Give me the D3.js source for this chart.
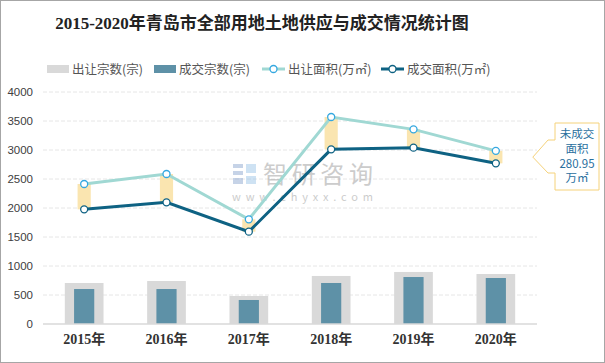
<!DOCTYPE html>
<html>
  <head>
    <style>
      body {
        margin: 0;
        font-family: "Noto Sans CJK SC", "Noto Sans", sans-serif;
      }
      .grid line {
        stroke: #e6e6e6;
        stroke-dasharray: 4,2;
      }
      .supply-line {
        fill: none;
        stroke: #a0d8d3;
        stroke-width: 3px;
      }
      .deal-line {
        fill: none;
        stroke: #0e6283;
        stroke-width: 3px;
      }
    </style>
  </head>
  <body>
    <script src="https://d3js.org/d3.v7.min.js"></script>
    <script>
      // data
      var years = ["2015年", "2016年", "2017年", "2018年", "2019年", "2020年"];
      var supplyCount = [707, 741, 483, 828, 897, 862];   // 出让宗数(宗)
      var dealCount = [603, 603, 414, 707, 810, 793];     // 成交宗数(宗)
      var supplyArea = [2414, 2586, 1805, 3569, 3356, 2985]; // 出让面积(万㎡)
      var dealArea = [1977, 2098, 1592, 3011, 3040, 2770];   // 成交面积(万㎡)
      var yTicks = [0, 500, 1000, 1500, 2000, 2500, 3000, 3500, 4000];
      var legendNames = ["出让宗数(宗)", "成交宗数(宗)", "出让面积(万㎡)", "成交面积(万㎡)"];
      var calloutLines = ["未成交", "面积", "280.95", "万㎡"];

      var W = 605, H = 363;
      var svg = d3.select("body").append("svg")
        .attr("width", W)
        .attr("height", H);

      svg.append("rect")
        .attr("x", 0.5).attr("y", 0.5)
        .attr("width", W - 1).attr("height", H - 1)
        .attr("fill", "#fff")
        .attr("stroke", "#a6a6a6");

      var x = d3.scaleBand()
        .domain(years)
        .range([43, 537]);
      var y = d3.scaleLinear()
        .domain([0, 4000])
        .range([324, 92]);

      // title
      svg.append("text")
        .attr("x", 262).attr("y", 29)
        .attr("text-anchor", "middle")
        .attr("font-family", "'Liberation Serif', 'Noto Sans CJK SC', serif")
        .attr("font-weight", "bold")
        .attr("font-size", 17)
        .attr("fill", "#222")
        .text("2015-2020年青岛市全部用地土地供应与成交情况统计图");

      // legend
      var lg = svg.append("g").attr("font-size", 12.5).attr("fill", "#555");
      lg.append("rect").attr("x", 47).attr("y", 65).attr("width", 22).attr("height", 8).attr("fill", "#d9d9d9");
      lg.append("text").attr("x", 72).attr("y", 73.5).text(legendNames[0]);
      lg.append("rect").attr("x", 154).attr("y", 65).attr("width", 22).attr("height", 8).attr("fill", "#5e91a7");
      lg.append("text").attr("x", 179).attr("y", 73.5).text(legendNames[1]);
      lg.append("line").attr("x1", 262).attr("x2", 285).attr("y1", 69).attr("y2", 69)
        .attr("stroke", "#a0d8d3").attr("stroke-width", 3);
      lg.append("circle").attr("cx", 273.5).attr("cy", 69).attr("r", 3.5)
        .attr("fill", "#fff").attr("stroke", "#35a8e0").attr("stroke-width", 1.3);
      lg.append("text").attr("x", 288).attr("y", 73.5).text(legendNames[2]);
      lg.append("line").attr("x1", 381).attr("x2", 404).attr("y1", 69).attr("y2", 69)
        .attr("stroke", "#0e6283").attr("stroke-width", 3);
      lg.append("circle").attr("cx", 392.5).attr("cy", 69).attr("r", 3.5)
        .attr("fill", "#fff").attr("stroke", "#0e6283").attr("stroke-width", 1.3);
      lg.append("text").attr("x", 407).attr("y", 73.5).text(legendNames[3]);

      // gridlines
      svg.append("g")
        .attr("class", "grid")
        .selectAll("line")
        .data(yTicks.slice(1))
        .enter().append("line")
          .attr("x1", 43).attr("x2", 537)
          .attr("y1", d => y(d)).attr("y2", d => y(d));

      // y axis
      var yAxis = d3.axisLeft(y).tickValues(yTicks).tickFormat(d3.format("d")).tickSize(0).tickPadding(0);
      var yg = svg.append("g")
        .attr("transform", "translate(33,0)")
        .call(yAxis);
      yg.select(".domain").remove();
      yg.selectAll("text")
        .attr("font-family", "'Liberation Sans', Arial, sans-serif")
        .attr("font-size", 11.5)
        .attr("fill", "#404040");

      // watermark
      var wm = svg.append("g").attr("opacity", 0.5);
      wm.append("rect").attr("x", 233).attr("y", 164).attr("width", 10).attr("height", 4).attr("fill", "#8fa8d0");
      wm.append("rect").attr("x", 233).attr("y", 171).attr("width", 10).attr("height", 4).attr("fill", "#8fa8d0");
      wm.append("rect").attr("x", 233).attr("y", 178).attr("width", 10).attr("height", 6).attr("fill", "#8fa8d0");
      wm.append("rect").attr("x", 246).attr("y", 164).attr("width", 10).attr("height", 9).attr("fill", "#9ec6e8");
      wm.append("rect").attr("x", 246).attr("y", 176).attr("width", 10).attr("height", 8).attr("fill", "#9ec6e8");
      wm.append("text").attr("x", 263).attr("y", 183)
        .attr("font-size", 24).attr("fill", "#9a9a9a")
        .attr("textLength", 110)
        .text("智研咨询");
      wm.append("text").attr("x", 232).attr("y", 201)
        .attr("font-size", 11).attr("fill", "#9a9a9a")
        .attr("textLength", 141)
        .text("www.chyxx.com");

      // bars
      var bw1 = x.bandwidth() * 0.47, bw2 = x.bandwidth() * 0.245;
      svg.append("g").selectAll("rect")
        .data(years)
        .enter().append("rect")
          .attr("x", d => x(d) + (x.bandwidth() - bw1) / 2)
          .attr("width", bw1)
          .attr("y", (d, i) => y(supplyCount[i]))
          .attr("height", (d, i) => y(0) - y(supplyCount[i]))
          .attr("fill", "#d9d9d9");
      svg.append("g").selectAll("rect")
        .data(years)
        .enter().append("rect")
          .attr("x", d => x(d) + (x.bandwidth() - bw2) / 2)
          .attr("width", bw2)
          .attr("y", (d, i) => y(dealCount[i]))
          .attr("height", (d, i) => y(0) - y(dealCount[i]))
          .attr("fill", "#5e91a7");

      // baseline
      svg.append("line")
        .attr("x1", 43).attr("x2", 537)
        .attr("y1", y(0)).attr("y2", y(0))
        .attr("stroke", "#d9d9d9").attr("stroke-width", 1.5);

      // x axis labels
      var xAxis = d3.axisBottom(x).tickSize(0).tickPadding(0);
      var xg = svg.append("g")
        .attr("transform", "translate(0,334)")
        .call(xAxis);
      xg.select(".domain").remove();
      xg.selectAll("text")
        .attr("font-family", "'Liberation Serif', 'Noto Sans CJK SC', serif")
        .attr("font-weight", "bold")
        .attr("font-size", 14)
        .attr("fill", "#333");

      var cx = d => x(d) + x.bandwidth() / 2;

      // gap rectangles between supply and deal area
      var gw = x.bandwidth() * 0.16;
      svg.append("g").selectAll("rect")
        .data(years)
        .enter().append("rect")
          .attr("x", d => cx(d) - gw / 2)
          .attr("width", gw)
          .attr("y", (d, i) => y(supplyArea[i]))
          .attr("height", (d, i) => y(dealArea[i]) - y(supplyArea[i]))
          .attr("fill", "#fae5b0");

      // lines
      var line = d3.line()
        .x(d => cx(d[0]))
        .y(d => y(d[1]));
      svg.append("path")
        .attr("class", "supply-line")
        .datum(years.map((d, i) => [d, supplyArea[i]]))
        .attr("d", line);
      svg.append("path")
        .attr("class", "deal-line")
        .datum(years.map((d, i) => [d, dealArea[i]]))
        .attr("d", line);

      svg.append("g").selectAll("circle")
        .data(years)
        .enter().append("circle")
          .attr("cx", cx)
          .attr("cy", (d, i) => y(supplyArea[i]))
          .attr("r", 3.5)
          .attr("fill", "#fff").attr("stroke", "#35a8e0").attr("stroke-width", 1.3);
      svg.append("g").selectAll("circle")
        .data(years)
        .enter().append("circle")
          .attr("cx", cx)
          .attr("cy", (d, i) => y(dealArea[i]))
          .attr("r", 3.5)
          .attr("fill", "#fff").attr("stroke", "#0e6283").attr("stroke-width", 1.3);

      // callout for 2020
      var tipX = cx(years[5]) + 37, tipY = (y(supplyArea[5]) + y(dealArea[5])) / 2;
      svg.append("path")
        .attr("d", "M555,123 H599 V190 H555 V173 H548 L" + tipX + "," + tipY + " L548,140 H555 Z")
        .attr("fill", "#fff")
        .attr("stroke", "#f5d27a")
        .attr("stroke-width", 1);
      svg.append("g")
        .attr("font-size", 11.5)
        .attr("fill", "#2a6f9e")
        .attr("text-anchor", "middle")
        .selectAll("text")
        .data(calloutLines)
        .enter().append("text")
          .attr("x", 577)
          .attr("y", (d, i) => 138 + i * 14.8)
          .text(d => d);
    </script>
  </body>
</html>
